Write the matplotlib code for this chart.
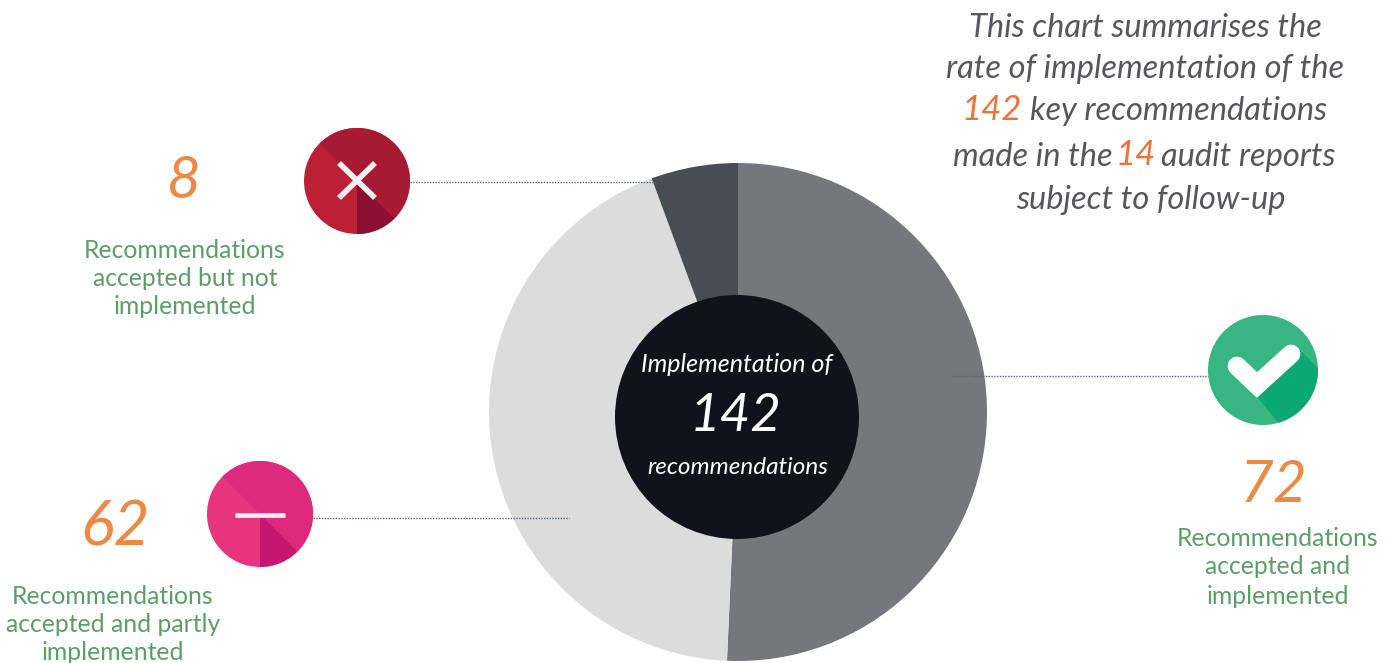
import matplotlib
matplotlib.use("Agg")
import matplotlib.pyplot as plt
from matplotlib.patches import Circle, Wedge, Polygon
from matplotlib.lines import Line2D

W, H = 1397, 663

# Follow-up results
values = [72, 62, 8]
slice_colors = ["#75777d", "#dcdcdd", "#4a4c53"]
total_label = "142"
reports_label = "14"

GREEN = "#5d9e68"
ORANGE = "#ec8a45"
GREY_TXT = "#55575b"
HAND = "Lato"


def yy(p):
    return H - p


fig = plt.figure(figsize=(W / 100, H / 100), dpi=100, facecolor="white")
ax = fig.add_axes([0, 0, 1, 1])

# Main pie, clockwise from twelve o'clock
ax.pie(values, colors=slice_colors, startangle=90, counterclock=False,
       center=(738, yy(412)), radius=249, frame=True,
       wedgeprops=dict(linewidth=0))
ax.set_xlim(0, W)
ax.set_ylim(0, H)
ax.set_aspect("equal")
ax.axis("off")

# Centre disc
ax.add_patch(Circle((737, yy(417)), 122, fc="#12131a", ec="none", zorder=3))
ax.text(737, yy(364), "Implementation of", color="white", family=HAND, style="italic",
        fontsize=18, ha="center", va="center", zorder=4)
ax.text(736, yy(416), total_label, color="white", family=HAND, style="italic",
        fontsize=38, ha="center", va="center", zorder=4)
ax.text(738, yy(467), "recommendations", color="white", family=HAND, style="italic",
        fontsize=17.5, ha="center", va="center", zorder=4)

# Dotted leader lines
for x0, x1, p in [(410, 655, 182), (313, 569, 518), (952, 1208, 376)]:
    ax.add_line(Line2D([x0, x1], [yy(p), yy(p)], color="#5b6478", lw=1,
                       ls=(0, (1, 1)), zorder=2))


def flat_icon(cx, cy, r, base, mid, dark):
    """Round badge with a folded shadow in the lower right."""
    c = (cx, yy(cy))
    ax.add_patch(Circle(c, r, fc=base, ec="none", zorder=3))
    ax.add_patch(Wedge(c, r, -45, 135, fc=mid, ec="none", zorder=3))
    ax.add_patch(Wedge(c, r, -90, -45, fc=dark, ec="none", zorder=3))


# Not implemented
flat_icon(357, 181, 53, "#bb2036", "#a61b33", "#8b0f30")
for dx in (1, -1):
    ax.add_line(Line2D([357 - 18 * dx, 357 + 18 * dx], [yy(163), yy(198)], color="#f4f0f0",
                       lw=4, zorder=4, solid_capstyle="butt"))

# Partly implemented
flat_icon(260, 514, 53, "#e8337f", "#dd2a7d", "#c6166f")
ax.add_line(Line2D([235, 285], [yy(515), yy(515)], color="#fbeef4", lw=3.4, zorder=4,
                   solid_capstyle="butt"))

# Implemented
gc = (1263, yy(370))
ax.add_patch(Circle(gc, 55, fc="#37b681", ec="none", zorder=3))
shadow = Polygon([(1300, yy(350)), (1340, yy(390)), (1300, yy(450)), (1280, yy(425)), (1258, yy(398))],
                 fc="#0aa873", ec="none", zorder=3)
ax.add_patch(shadow)
shadow.set_clip_path(Circle(gc, 55, transform=ax.transData))
ax.add_line(Line2D([1237, 1257, 1291], [yy(366), yy(385), yy(354)], color="white", lw=13.5,
                   zorder=4, solid_capstyle="round", solid_joinstyle="miter"))

# Counts
for x, p, s, size in [(184, 182, "8", 42), (115, 528, "62", 45), (1274, 485, "72", 42)]:
    ax.text(x, yy(p), s, color=ORANGE, family=HAND, style="italic", fontsize=size,
            ha="center", va="center")

# Category captions
for x, ps, lines in [
    (185, (251, 279, 307), ("Recommendations", "accepted but not", "implemented")),
    (113, (597, 625, 653), ("Recommendations", "accepted and partly", "implemented")),
    (1278, (538, 567, 596), ("Recommendations", "accepted and", "implemented")),
]:
    for p, line in zip(ps, lines):
        ax.text(x, yy(p), line, color=GREEN, family="Lato", fontsize=17.8,
                ha="center", va="center")

# Explanatory note, top right
note = dict(color=GREY_TXT, family=HAND, style="italic", fontsize=23.5, va="center")
accent = dict(color="#e8743a", family=HAND, style="italic", fontsize=25, va="center")
ax.text(1145, yy(28), "This chart summarises the", ha="center", **note)
ax.text(1145, yy(69), "rate of implementation of the", ha="center", **note)
ax.text(1022, yy(110), total_label, ha="right", **accent)
ax.text(1030, yy(111), "key recommendations", ha="left", **note)
ax.text(1113, yy(157), "made in the", ha="right", **note)
ax.text(1136, yy(155), reports_label, ha="center", **accent)
ax.text(1161, yy(157), "audit reports", ha="left", **note)
ax.text(1151, yy(200), "subject to follow-up", ha="center", **note)

fig.savefig("out.png", dpi=100, facecolor="white")
